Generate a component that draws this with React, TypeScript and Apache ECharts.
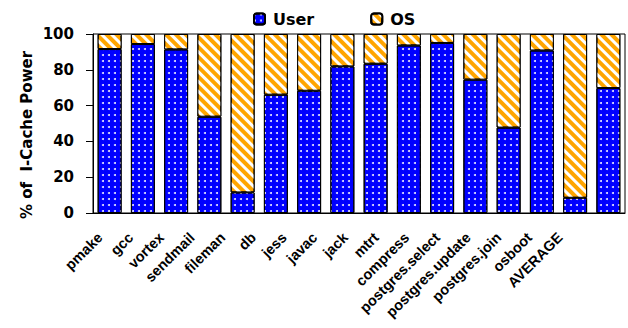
import React, { useEffect, useRef } from "react";
import * as echarts from "echarts";

const categories = [
  "pmake", "gcc", "vortex", "sendmail", "fileman", "db", "jess", "javac",
  "jack", "mtrt", "compress", "postgres.select", "postgres.update",
  "postgres.join", "osboot", "AVERAGE",
];
const userShare = [91.6, 94.4, 91.4, 53.8, 11.5, 66.1, 68.3, 81.9, 83.4, 93.6, 95.0, 74.5, 47.7, 90.8, 8.5, 69.8];
const osShare = [8.4, 5.6, 8.6, 46.2, 88.5, 33.9, 31.7, 18.1, 16.6, 6.4, 5.0, 25.5, 52.3, 9.2, 91.5, 30.2];
const yTicks = { min: 0, max: 100, interval: 20 };

const FONT = '"DejaVu Sans", sans-serif';
const LABEL_FONT = '"Liberation Sans", Arial, sans-serif';

export default function App() {
  const ref = useRef<HTMLDivElement>(null);

  useEffect(() => {
    if (!ref.current) return;
    const chart = echarts.init(ref.current, null, { renderer: "svg" });
    chart.setOption({
      animation: false,
      backgroundColor: "#ffffff",
      textStyle: { fontFamily: FONT, fontWeight: "bold" },
      legend: {
        data: ["User", "OS"],
        left: 248,
        top: 6,
        itemWidth: 11,
        itemHeight: 11,
        itemGap: 56,
        textStyle: {
          fontFamily: FONT,
          fontWeight: "bold",
          fontSize: 16,
          color: "#000",
          padding: [0, 0, 0, 3],
        },
      },
      graphic: [
        {
          type: "text",
          x: 27,
          y: 135,
          rotation: Math.PI / 2,
          style: {
            text: "% of  I-Cache Power",
            font: `bold 15px ${FONT}`,
            fill: "#000",
            align: "center",
            verticalAlign: "middle",
          },
        },
      ],
      grid: [
        {
          left: 93,
          right: 3,
          top: 34,
          bottom: 115,
          show: true,
          borderColor: "#000",
          borderWidth: 1,
          backgroundColor: "transparent",
        },
        // label row for the category names, set slightly tighter than the bars
        { left: 84.7, width: 490.7, top: 34, bottom: 115 },
      ],
      xAxis: [
        {
          type: "category",
          gridIndex: 0,
          data: categories,
          axisLine: { lineStyle: { color: "#000", width: 1 } },
          axisTick: { length: 5, lineStyle: { color: "#000" } },
          axisLabel: { show: false },
        },
        {
          type: "category",
          gridIndex: 1,
          data: categories,
          axisLine: { show: false },
          axisTick: { show: false },
          axisLabel: {
            interval: 0,
            rotate: 45,
            margin: 22,
            fontFamily: LABEL_FONT,
            fontWeight: "bold",
            fontSize: 14.5,
            color: "#000",
          },
        },
      ],
      yAxis: [
        {
          type: "value",
          gridIndex: 0,
          min: yTicks.min,
          max: yTicks.max,
          interval: yTicks.interval,
          axisLine: { show: true, lineStyle: { color: "#000", width: 1 } },
          axisTick: { show: true, length: 7, lineStyle: { color: "#000" } },
          splitLine: { show: false },
          axisLabel: {
            margin: 19,
            fontFamily: FONT,
            fontWeight: "bold",
            fontSize: 15,
            color: "#000",
          },
        },
        { type: "value", gridIndex: 1, show: false, min: 0, max: 100 },
      ],
      series: [
        {
          name: "User",
          type: "bar",
          stack: "power",
          data: userShare,
          barWidth: "72%",
          itemStyle: {
            color: "#0000ff",
            borderColor: "#000",
            borderWidth: 1,
            decal: {
              symbol: "circle",
              symbolSize: 1,
              dashArrayX: [1.4, 3.3],
              dashArrayY: [1.4, 3.3],
              color: "rgba(255,255,255,0.9)",
            },
          },
        },
        {
          name: "OS",
          type: "bar",
          stack: "power",
          data: osShare,
          barWidth: "72%",
          itemStyle: {
            color: "#ffa500",
            borderColor: "#000",
            borderWidth: 1,
            decal: {
              symbol: "rect",
              symbolSize: 1,
              dashArrayX: [1, 0],
              dashArrayY: [3, 4],
              rotation: Math.PI / 4,
              color: "#ffffff",
            },
          },
        },
      ],
    });
    return () => chart.dispose();
  }, []);

  return (
    <div
      ref={ref}
      style={{ position: "fixed", left: 0, top: 0, width: 628, height: 328 }}
    />
  );
}
